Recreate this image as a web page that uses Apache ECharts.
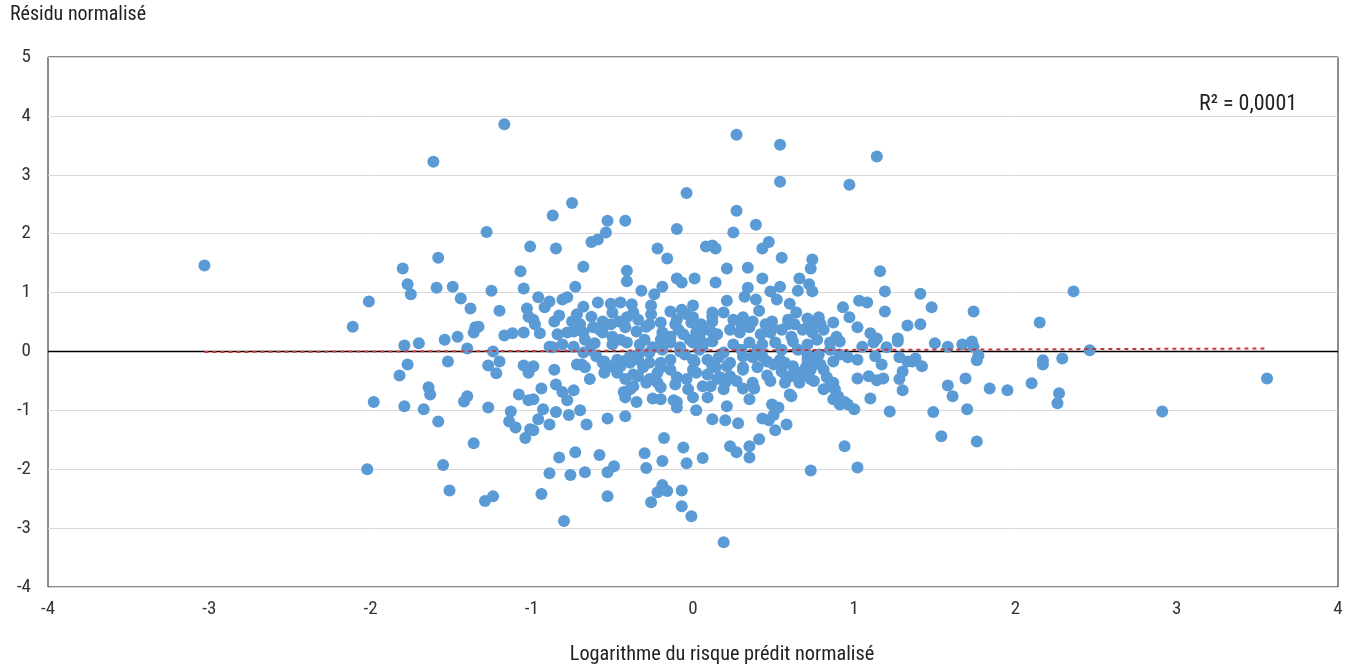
<!DOCTYPE html>
<html>
<head>
<meta charset="utf-8">
<script src="https://cdn.jsdelivr.net/npm/echarts@6/dist/echarts.min.js"></script>
<style>html,body{margin:0;padding:0;background:#fff}#c{width:1356px;height:668px}</style>
</head>
<body>
<div id="c"></div>
<script>
// ---- DATA ----
const xTicks = [-4, -3, -2, -1, 0, 1, 2, 3, 4];
const yTicks = [-4, -3, -2, -1, 0, 1, 2, 3, 4, 5];
const titleY = 'Résidu normalisé';
const titleX = 'Logarithme du risque prédit normalisé';
const r2Label = 'R² = 0,0001';
const trendX = [-3.03, 3.56];
const trendY = [-0.01, 0.05];

const pointsLeft = [
[-3.03,1.46],[-2.11,0.42],[-2.01,0.85],[-2.02,-2.0],[-1.98,-0.86],
[-1.80,1.41],[-1.77,1.14],[-1.75,0.97],[-1.79,0.10],[-1.70,0.14],[-1.82,-0.41],[-1.77,-0.22],[-1.79,-0.93],[-1.67,-0.98],[-1.64,-0.61],[-1.63,-0.73],
[-1.61,3.22],[-1.58,1.59],[-1.59,1.08],[-1.58,-1.19],[-1.55,-1.93],[-1.51,-2.36],[-1.54,0.20],[-1.52,-0.17],
[-1.49,1.10],[-1.46,0.25],[-1.44,0.90],[-1.42,-0.85],[-1.40,-0.76],[-1.38,0.73],[-1.40,0.05],[-1.36,-1.56],[-1.35,0.41],[-1.33,0.42],[-1.36,0.32],
[-1.28,2.03],[-1.29,-2.54],[-1.24,-2.46],[-1.27,-0.95],[-1.25,1.03],[-1.24,0.0],[-1.27,-0.24],[-1.22,-0.37],[-1.20,-0.17],
[-1.17,3.86],[-1.20,0.69],[-1.17,0.27],[-1.12,0.31],[-1.13,-1.02],[-1.14,-1.19],[-1.10,-1.29],[-1.08,-0.73],[-1.07,1.36],[-1.05,1.07],[-1.05,-0.24],[-1.05,0.32],[-1.04,-1.47],[-1.03,0.73],[-1.02,0.59],[-1.02,-0.36],[-1.02,-0.83],[-1.01,-1.32],[-1.01,1.78]
];

const pointsMidUpper = [
[-0.75,2.52],[-0.87,2.31],[-0.53,2.22],[-0.42,2.22],[-0.54,2.02],[-0.10,2.08],[-0.04,2.69],[-0.63,1.86],[-0.59,1.90],[-0.85,1.75],[-0.22,1.75],[-0.16,1.58],[0.08,1.78],[0.12,1.80],[0.14,1.75],
[-0.68,1.44],[-0.41,1.37],[-0.41,1.19],[-0.10,1.24],[-0.07,1.17],[0.01,1.24],[0.14,1.17],[-0.73,1.10],[-0.32,1.03],[-0.24,0.97],[-0.19,1.10],
[-0.96,0.92],[-0.89,0.85],[-0.92,0.75],[-0.81,0.88],[-0.78,0.92],[0.0,0.78],[0.12,0.66],[-0.68,0.76],[-0.59,0.83],[-0.51,0.81],[-0.45,0.83],[-0.38,0.80],[-0.26,0.78],[-0.14,0.68],[-0.07,0.71],
[-0.83,0.61],[-0.72,0.63],[-0.86,0.51],[-0.75,0.51],[-0.63,0.59],[-0.50,0.66],[-0.46,0.51],[-0.37,0.66],[-0.26,0.63],[-0.20,0.49],[-0.10,0.54],[0.0,0.58],[0.06,0.42],[0.12,0.51],
[-0.95,0.31],[-0.84,0.29],[-0.74,0.34],[-0.68,0.32],[-0.58,0.37],[-0.50,0.25],[-0.42,0.41],[-0.35,0.34],[-0.30,0.20],[-0.19,0.32],[-0.14,0.15],[-0.06,0.29],[0.04,0.25],[0.12,0.32],
[-0.74,0.08],[-0.61,0.14],[-0.89,0.08],[-0.98,0.46],[-0.99,0.54],
[-0.56,0.51],[-0.41,0.58],[-0.34,0.54],[-0.29,0.42],[-0.04,0.63],[-0.01,0.49],
[-0.78,0.32],[-0.62,0.41],[-0.56,0.32],[-0.14,0.25],[-0.09,0.37],[0.02,0.32],
[-0.81,0.12],[-0.41,0.15],[-0.33,0.12],[-0.25,0.07],[-0.08,0.07],[0.0,0.15],
[-0.70,0.46],[-0.51,0.46],[-0.27,0.46],[-0.11,0.46],[-0.67,0.20],[-0.45,0.20],[-0.20,0.20],[-0.02,0.20],[-0.64,0.03],[0.04,0.03]
];

const pointsMidLower = [
[-0.99,-0.25],[-0.86,-0.31],[-0.99,-0.81],[-0.94,-0.63],[-0.85,-0.56],[-0.81,-0.69],[-0.74,-0.66],[-0.78,-0.83],[-0.93,-0.98],[-0.96,-1.15],[-0.89,-1.24],[-0.85,-1.03],[-0.77,-1.08],[-0.70,-1.0],[-0.66,-1.24],[-0.53,-1.14],[-0.42,-1.10],[-0.99,-1.34],
[-0.83,-1.80],[-0.73,-1.71],[-0.58,-1.76],[-0.89,-2.07],[-0.76,-2.10],[-0.67,-2.05],[-0.53,-2.05],[-0.49,-1.95],[-0.94,-2.42],[-0.53,-2.46],[-0.80,-2.88],
[-0.18,-1.47],[-0.30,-1.73],[-0.29,-1.98],[-0.19,-1.86],[-0.06,-1.63],[-0.04,-1.90],[0.06,-1.81],[-0.19,-2.27],[-0.22,-2.39],[-0.16,-2.37],[-0.26,-2.56],[-0.07,-2.36],[-0.07,-2.63],[-0.01,-2.80],
[0.02,-1.0],[0.12,-1.15],[-0.10,-0.95],[-0.12,-0.83],[-0.42,-0.78],[-0.35,-0.86],[-0.43,-0.69],[-0.39,-0.64],[-0.29,-0.53],[-0.25,-0.80],[-0.22,-0.53],[-0.34,-0.42],[-0.10,-0.44],[-0.04,-0.47],[0.06,-0.59],[0.09,-0.78],[0.15,-0.47],
[-0.55,-0.36],[-0.51,-0.25],[-0.55,-0.17],[-0.45,-0.25],[-0.39,-0.19],[-0.72,-0.22],[-0.69,-0.22],[-0.87,0.07],[-0.68,-0.02],[-0.50,0.12],[-0.41,-0.14],[-0.33,-0.02],[-0.27,-0.19],[-0.19,0.03],[-0.14,-0.14],[-0.08,0.0],[0.0,-0.14],[0.06,0.08],[0.12,-0.25],[0.02,-0.36],
[-0.60,-0.08],[-0.56,-0.19],[-0.47,-0.14],[-0.39,-0.08],[-0.34,-0.14],[-0.27,-0.02],[-0.20,-0.19],[-0.05,-0.05],[0.01,-0.17],
[-0.47,-0.36],[-0.37,-0.39],[-0.31,-0.27],[-0.22,-0.36],[-0.14,-0.31],[0.0,-0.31],
[-0.37,-0.59],[-0.20,-0.61],[-0.11,-0.56],[-0.03,-0.64],[-0.20,-0.81],[-0.10,-0.86],[0.0,-0.78],
[-0.67,-0.27],[-0.20,-0.27],[-0.64,-0.47],[-0.42,-0.47],[-0.27,-0.47]
];

const pointsRightUpper = [
[0.27,3.68],[0.54,3.51],[0.54,2.88],[1.14,3.31],[0.97,2.83],[0.27,2.39],[0.39,2.15],[0.25,2.02],[0.47,1.86],[0.43,1.75],[0.55,1.59],[0.74,1.56],[0.73,1.41],[0.21,1.41],[0.34,1.42],
[0.43,1.24],[0.66,1.24],[0.72,1.14],[0.54,1.10],[0.65,1.03],[0.74,1.02],[0.48,1.02],[0.52,0.88],[0.34,1.08],[0.32,0.93],[0.21,0.86],[0.39,0.88],[0.41,0.69],[0.60,0.81],
[1.16,1.36],[1.19,1.02],[1.19,0.68],[1.03,0.86],[1.08,0.83],[0.93,0.75],[0.97,0.58],[1.02,0.41],[0.87,0.49],[0.71,0.56],[0.77,0.49],[1.27,0.22],[1.33,0.44],[1.10,0.31],[1.14,0.22],[0.89,0.25],[0.63,0.46],[0.59,0.46],[0.49,0.42],[0.71,0.41],[0.79,0.47],
[0.12,0.59],[0.19,0.66],[0.25,0.54],[0.31,0.58],[0.37,0.51],[0.49,0.51],[0.59,0.54],[0.64,0.66],[0.78,0.58],
[0.07,0.37],[0.15,0.29],[0.23,0.37],[0.29,0.32],[0.35,0.41],[0.42,0.29],[0.48,0.32],[0.55,0.37],[0.61,0.25],[0.68,0.37],[0.74,0.32],[0.81,0.37],
[0.06,0.15],[0.12,0.17],[0.25,0.12],[0.35,0.15],[0.43,0.12],[0.51,0.15],[0.62,0.17],[0.71,0.12],[0.77,0.20],[0.85,0.15],[0.91,0.17],[1.05,0.08],[1.20,0.07],[1.27,0.17],[1.12,0.15],
[0.05,0.46],[0.30,0.46],[0.45,0.46],[0.30,0.03],[0.40,0.03],[0.55,0.03],[0.65,0.03],[0.85,0.03]
];

const pointsRightLower = [
[0.19,-3.24],[0.73,-2.02],[1.02,-1.97],[0.94,-1.61],[0.23,-1.61],[0.27,-1.71],[0.35,-1.61],[0.35,-1.80],[0.41,-1.49],[0.51,-1.34],[0.58,-1.24],[0.43,-1.14],[0.47,-1.17],[0.50,-1.08],[0.20,-1.17],[0.28,-1.22],
[0.21,-0.93],[0.49,-0.90],[0.53,-0.95],[0.61,-0.76],[0.91,-0.90],[0.96,-0.90],[1.0,-0.98],[1.22,-1.02],[1.10,-0.80],[1.30,-0.66],[1.28,-0.47],[1.30,-0.34],[1.14,-0.49],[1.18,-0.46],[1.09,-0.42],[1.02,-0.46],
[0.90,-0.76],[0.88,-0.64],[0.87,-0.53],[0.83,-0.44],[0.94,-0.86],[0.73,-0.47],[0.66,-0.53],[0.68,-0.39],[0.61,-0.42],[0.57,-0.53],[0.46,-0.41],[0.37,-0.53],[0.38,-0.63],[0.35,-0.81],[0.31,-0.63],[0.31,-0.27],[0.23,-0.42],[0.20,-0.53],[0.21,-0.25],
[0.37,-0.10],[0.43,-0.08],[0.50,-0.22],[0.55,-0.34],[0.57,-0.19],[0.62,-0.25],[0.71,-0.05],[0.77,-0.17],[0.81,-0.31],[0.91,-0.05],[0.96,-0.10],[1.02,-0.14],[1.13,-0.08],[1.17,-0.22],[1.28,-0.10],[1.33,-0.17],[0.78,-0.05],[0.19,-0.02],
[0.09,-0.14],[0.16,-0.10],[0.23,-0.19],[0.31,-0.08],[0.46,-0.17],[0.54,-0.14],[0.71,-0.14],[0.79,-0.22],[0.87,-0.17],
[0.09,-0.39],[0.17,-0.44],[0.31,-0.31],[0.58,-0.44],[0.66,-0.36],[0.73,-0.31],
[0.11,-0.59],[0.19,-0.64],[0.60,-0.73],[0.81,-0.64],[0.85,-0.59],[0.87,-0.81],
[0.14,-0.27],[0.40,-0.27],[0.70,-0.27],[0.27,-0.50],[0.48,-0.50],[0.75,-0.50]
];

const pointsFarRight = [
[2.46,0.02],[2.29,-0.12],[2.17,-0.15],[2.17,-0.22],[2.27,-0.71],[2.26,-0.88],[2.10,-0.54],[1.95,-0.66],[1.84,-0.63],[1.76,-1.53],[1.70,-0.98],[1.69,-0.46],[1.54,-1.44],[1.49,-1.03],[1.58,-0.58],[1.61,-0.76],
[1.76,-0.15],[1.77,-0.07],[1.73,0.17],[1.74,0.08],[1.67,0.12],[1.58,0.08],[1.50,0.14],[1.38,-0.12],[1.42,-0.25],[1.36,-0.17],
[1.41,0.98],[1.48,0.75],[1.74,0.68],[1.41,0.46],[2.15,0.49],[2.36,1.02],[2.91,-1.02],[3.56,-0.46]
];

const allPoints = [].concat(pointsLeft, pointsMidUpper, pointsMidLower, pointsRightUpper, pointsRightLower, pointsFarRight);

// ---- CHART ----
const FONT = "'Liberation Sans Narrow', 'Roboto Condensed', 'Arial Narrow', Roboto, sans-serif";
const chart = echarts.init(document.getElementById('c'), null, {renderer: 'canvas'});
chart.setOption({
  animation: false,
  backgroundColor: '#ffffff',
  grid: {left: 48, right: 18, top: 57, bottom: 81, show: true, borderColor: '#1a1a1a', borderWidth: 1, backgroundColor: 'transparent'},
  xAxis: {
    type: 'value', min: xTicks[0], max: xTicks[xTicks.length - 1], interval: 1,
    axisLine: {show: false, onZero: false}, axisTick: {show: false}, splitLine: {show: false},
    axisLabel: {fontFamily: FONT, fontSize: 19, color: '#333', margin: 13}
  },
  yAxis: {
    type: 'value', min: yTicks[0], max: yTicks[yTicks.length - 1], interval: 1,
    axisLine: {show: false}, axisTick: {show: false},
    splitLine: {show: true, lineStyle: {color: '#d9d9d9', width: 1}},
    axisLabel: {fontFamily: FONT, fontSize: 19, color: '#333', margin: 17}
  },
  graphic: [
    {type: 'text', left: 10, top: 5, style: {text: titleY, font: '20px ' + FONT, fill: '#222'}},
    {type: 'text', left: 1199, top: 93, style: {text: r2Label, font: '22px ' + FONT, fill: '#222'}},
    {type: 'text', x: 722, y: 645, style: {text: titleX, font: '20.3px ' + FONT, fill: '#222', textAlign: 'center'}}
  ],
  series: [
    {
      type: 'line', data: [[xTicks[0], 0], [xTicks[xTicks.length - 1], 0]], showSymbol: false, silent: true, z: 1,
      lineStyle: {color: '#000', width: 1.5}
    },
    {
      type: 'scatter', data: allPoints, symbolSize: 12, z: 2,
      itemStyle: {color: '#5B9BD5', opacity: 1}
    },
    {
      type: 'line', data: trendX.map((x, i) => [x, trendY[i]]), showSymbol: false, silent: true, z: 3,
      lineStyle: {color: '#C8373A', width: 2, type: [4, 4]}
    }
  ]
});
</script>
</body>
</html>
